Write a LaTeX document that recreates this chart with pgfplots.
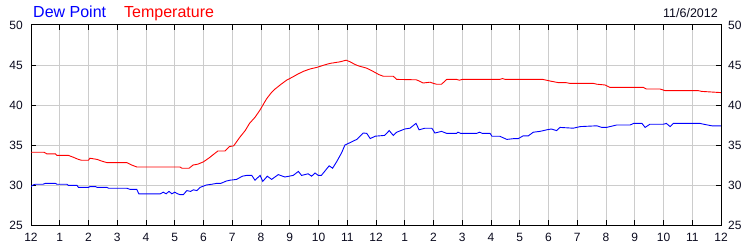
\documentclass[border=0pt]{standalone}
\usepackage{fontspec}
\setmainfont{Liberation Sans}
\usepackage{pgfplots}
\pgfplotsset{compat=1.18}
\definecolor{gridgray}{RGB}{204,204,204}
\definecolor{tickcol}{RGB}{10,10,30}
\begin{document}
\begin{tikzpicture}[x=1bp,y=1bp]
\path[use as bounding box] (0,0) rectangle (750,250);
\pgfplotsset{
  mybase/.style={
    at={(31bp,25bp)}, anchor=south west,
    scale only axis, width=690bp, height=200bp,
    xmin=0, xmax=24, ymin=25, ymax=50,
    xtick={0,...,24}, ytick={25,30,...,50},
    tick align=inside, major tick length=5bp,
    /pgf/number format/assume math mode=true,
    tick label style={font=\fontsize{12bp}{14bp}\selectfont, text=tickcol, inner sep=0pt},
    axis line style={line width=1bp},
    every tick/.style={black, line width=1bp},
  }
}
\begin{axis}[mybase,
  tick pos=both,
  grid=major, major grid style={gridgray, line width=1bp},
  xticklabels={12,1,2,3,4,5,6,7,8,9,10,11,12,1,2,3,4,5,6,7,8,9,10,11,12},
  xticklabel style={yshift=-8bp},
  yticklabel style={xshift=-8bp},
]
\addplot[red, line width=0.9bp] coordinates {
(0,34.1)(0.45,34.1)(0.55,33.9)(0.85,33.9)(0.9,33.7)(1.3,33.7)(1.45,33.5)(1.65,33.2)(1.75,33.1)(2.0,33.1)
(2.05,33.35)(2.3,33.2)(2.45,33.0)(2.64,32.8)(3.33,32.8)(3.5,32.5)(3.68,32.25)(5.18,32.25)(5.25,32.1)(5.5,32.1)
(5.64,32.5)(5.8,32.6)(6.0,32.9)(6.2,33.4)(6.34,33.8)(6.5,34.25)(6.75,34.25)(6.9,34.8)(7.05,34.9)(7.15,35.4)
(7.27,36.0)(7.45,36.8)(7.6,37.7)(7.8,38.5)(7.97,39.4)(8.1,40.2)(8.2,40.8)(8.35,41.5)(8.49,42.0)(8.7,42.6)
(8.89,43.1)(9.1,43.5)(9.3,43.9)(9.47,44.2)(9.7,44.5)(9.94,44.7)(10.2,45.0)(10.4,45.2)(10.75,45.4)(10.96,45.6)
(11.1,45.4)(11.25,45.1)(11.38,44.9)(11.68,44.6)(11.9,44.2)(12.1,43.8)(12.25,43.6)(12.6,43.6)(12.72,43.2)(13.4,43.15)
(13.5,43.0)(13.64,42.75)(13.88,42.85)(14.0,42.7)(14.1,42.6)(14.28,42.6)(14.46,43.2)(14.8,43.2)(14.9,43.1)(15.0,43.2)
(16.3,43.2)(16.4,43.3)(16.5,43.2)(17.8,43.2)(18.05,43.0)(18.34,42.8)(18.6,42.8)(18.75,42.7)(19.56,42.7)(19.68,42.6)
(19.97,42.5)(20.14,42.2)(21.3,42.2)(21.4,42.0)(21.88,42.0)(22.05,41.8)(23.2,41.8)(23.33,41.7)(24,41.55)
};
\addplot[blue, line width=0.9bp] coordinates {
(0,29.8)(0.07,30.0)(0.15,30.1)(0.42,30.1)(0.5,30.2)(0.85,30.2)(0.9,30.1)(1.25,30.1)(1.3,29.95)(1.6,29.95)
(1.65,29.7)(2.0,29.7)(2.05,29.8)(2.25,29.8)(2.3,29.7)(2.64,29.7)(2.7,29.6)(3.33,29.6)(3.45,29.45)(3.68,29.45)
(3.75,28.9)(4.5,28.9)(4.6,29.1)(4.7,28.9)(4.8,29.2)(4.9,28.9)(5.0,29.1)(5.1,28.9)(5.18,28.8)(5.3,28.8)
(5.42,29.3)(5.55,29.2)(5.65,29.4)(5.77,29.3)(5.88,29.7)(6.1,30.0)(6.3,30.1)(6.45,30.2)(6.6,30.2)(6.8,30.5)
(6.92,30.6)(7.15,30.7)(7.35,31.1)(7.5,31.2)(7.68,31.2)(7.79,30.6)(7.97,31.2)(8.06,30.45)(8.22,31.1)(8.37,30.7)
(8.6,31.3)(8.83,31.0)(9.12,31.2)(9.3,31.7)(9.41,31.2)(9.64,31.4)(9.76,31.1)(9.88,31.5)(9.99,31.2)(10.1,31.2)
(10.37,32.4)(10.49,32.1)(10.63,32.9)(10.8,34.0)(10.92,35.0)(11.1,35.3)(11.33,35.7)(11.56,36.5)(11.68,36.45)(11.8,35.8)
(11.97,36.1)(12.3,36.2)(12.46,36.8)(12.6,36.2)(12.72,36.6)(13.0,37.0)(13.18,37.1)(13.39,37.7)(13.5,36.9)(13.7,37.1)
(13.94,37.1)(14.05,36.5)(14.28,36.7)(14.46,36.45)(14.8,36.45)(14.85,36.6)(14.95,36.45)(15.5,36.45)(15.6,36.6)(15.7,36.45)
(15.97,36.45)(16.03,36.1)(16.3,36.1)(16.55,35.7)(16.8,35.8)(16.95,35.8)(17.12,36.15)(17.3,36.15)(17.47,36.6)(17.7,36.7)
(17.94,36.9)(18.1,37.0)(18.28,36.8)(18.4,37.2)(18.86,37.1)(19.1,37.3)(19.68,37.4)(19.85,37.2)(20.02,37.2)(20.37,37.5)
(20.84,37.5)(20.96,37.7)(21.25,37.7)(21.36,37.2)(21.53,37.6)(22.0,37.6)(22.1,37.7)(22.23,37.3)(22.34,37.7)(23.27,37.7)
(23.39,37.6)(23.68,37.4)(24,37.4)
};
\end{axis}
\begin{axis}[mybase,
  hide x axis, axis y line*=right, major tick length=0pt,
  yticklabel style={xshift=7bp},
]
\end{axis}
\node[anchor=base west, inner sep=0pt, text=blue, font=\fontsize{16bp}{18bp}\selectfont] at (33,232.5) {Dew Point};
\node[anchor=base west, inner sep=0pt, text=red, font=\fontsize{16bp}{18bp}\selectfont] at (124,232.5) {Temperature};
\node[anchor=base east, inner sep=0pt, text=tickcol, font=\fontsize{12.5bp}{14bp}\selectfont] at (718,233) {11/6/2012};
\end{tikzpicture}
\end{document}
